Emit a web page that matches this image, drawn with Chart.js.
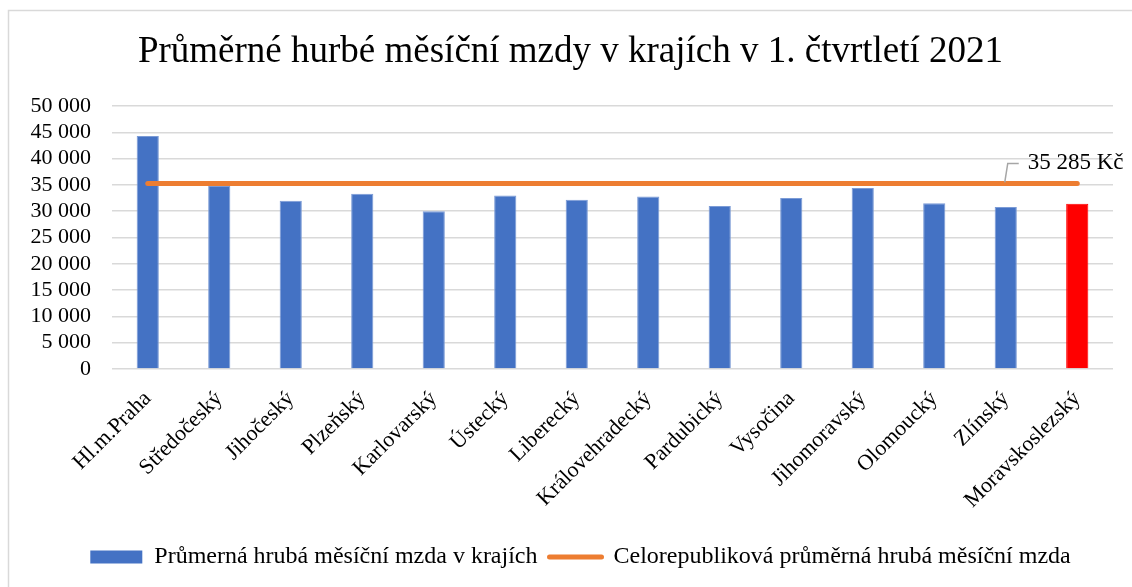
<!DOCTYPE html>
<html>
<head>
<meta charset="utf-8">
<script src="https://cdn.jsdelivr.net/npm/chart.js@4"></script>
<style>
  html, body { margin: 0; padding: 0; background: #fff; }
  #wrap { position: relative; width: 1132px; height: 587px; }
</style>
</head>
<body>
<div id="wrap"><canvas id="c" width="1132" height="587"></canvas></div>
<script>
const TITLE = 'Průměrné hurbé měsíční mzdy v krajích v 1. čtvrtletí 2021';
const categories = ['Hl.m.Praha','Středočeský','Jihočeský','Plzeňský','Karlovarský','Ústecký','Liberecký','Královehradecký','Pardubický','Vysočina','Jihomoravský','Olomoucký','Zlínský','Moravskoslezský'];
const regionWages = [44300, 34800, 32000, 33300, 30000, 33000, 32200, 32800, 31000, 32500, 34400, 31500, 30800, 31400];
const nationalWage = [35285, 35285, 35285, 35285, 35285, 35285, 35285, 35285, 35285, 35285, 35285, 35285, 35285, 35285];
const seriesNames = ['Průmerná hrubá měsíční mzda v krajích', 'Celorepubliková průměrná hrubá měsíční mzda'];
const yTicks = [0, 5000, 10000, 15000, 20000, 25000, 30000, 35000, 40000, 45000, 50000];
const labelIndex = 12;

const BLUE = '#4472C4', RED = '#FF0000', ORANGE = '#ED7D31';
const FONT = '"Liberation Serif", "Times New Roman", serif';
const fmt = v => String(v).replace(/\B(?=(\d{3})+(?!\d))/g, ' ');

const barColors = categories.map((c, i) => i === categories.length - 1 ? RED : BLUE);

const frame = {
  id: 'frame',
  afterLayout(chart) {
    if (chart.titleBlock) { chart.titleBlock.left += 14; chart.titleBlock.right += 14; }
    if (chart.legend) { chart.legend.left += 24; chart.legend.right += 24; }
  },
  beforeDraw(chart) {
    const ctx = chart.ctx;
    ctx.save();
    ctx.fillStyle = '#fff';
    ctx.fillRect(0, 0, chart.width, chart.height);
    ctx.strokeStyle = '#d9d9d9';
    ctx.lineWidth = 1.5;
    ctx.strokeRect(8.5, 10.5, 1300, 800);
    ctx.restore();
  }
};

const avgLabel = {
  id: 'avgLabel',
  afterDatasetsDraw(chart) {
    const ctx = chart.ctx;
    const xs = chart.scales.x, ys = chart.scales.y;
    const v = nationalWage[labelIndex];
    const x0 = xs.getPixelForValue(labelIndex);
    const y0 = ys.getPixelForValue(v);
    ctx.save();
    ctx.strokeStyle = '#a6a6a6';
    ctx.lineWidth = 1.5;
    ctx.beginPath();
    ctx.moveTo(x0 - 1, y0 - 1);
    ctx.lineTo(x0 + 2, y0 - 20);
    ctx.lineTo(x0 + 13, y0 - 20);
    ctx.stroke();
    ctx.fillStyle = '#000';
    ctx.font = '23px ' + FONT;
    ctx.textBaseline = 'middle';
    ctx.textAlign = 'left';
    ctx.fillText(fmt(v) + ' Kč', x0 + 22, y0 - 20);
    ctx.restore();
  }
};

new Chart(document.getElementById('c'), {
  data: {
    labels: categories,
    datasets: [
      {
        type: 'line',
        label: seriesNames[1],
        data: nationalWage,
        borderColor: ORANGE,
        backgroundColor: ORANGE,
        borderWidth: 5,
        borderCapStyle: 'round',
        pointRadius: 0,
        pointHoverRadius: 0,
        order: 0
      },
      {
        type: 'bar',
        label: seriesNames[0],
        data: regionWages,
        backgroundColor: barColors,
        borderColor: categories.map((c, i) => i === categories.length - 1 ? RED : '#7b9bd6'),
        borderWidth: 1,
        categoryPercentage: 1,
        barPercentage: 0.31,
        order: 1
      }
    ]
  },
  options: {
    responsive: false,
    animation: false,
    devicePixelRatio: 1,
    layout: { padding: { left: 0, right: 19, top: 0, bottom: 8 } },
    plugins: {
      title: {
        display: true,
        text: TITLE,
        color: '#000',
        font: { family: FONT, size: 37, weight: 'normal', lineHeight: 1.2 },
        padding: { top: 30, bottom: 31.6 }
      },
      legend: {
        position: 'bottom',
        reverse: true,
        labels: {
          color: '#000',
          font: { family: FONT, size: 24 },
          usePointStyle: true,
          pointStyleWidth: 52,
          boxHeight: 13,
          padding: 12,
          generateLabels(chart) {
            const items = Chart.defaults.plugins.legend.labels.generateLabels(chart);
            return items.map(it => {
              if (it.datasetIndex === 1) {
                it.pointStyle = 'rect';
                it.fillStyle = BLUE;
                it.strokeStyle = BLUE;
                it.lineWidth = 0;
              } else {
                it.pointStyle = 'line';
                it.strokeStyle = ORANGE;
                it.lineWidth = 5;
                it.lineCap = 'round';
              }
              return it;
            });
          }
        }
      },
      tooltip: { enabled: false }
    },
    scales: {
      x: {
        grid: { display: false },
        border: { display: false },
        ticks: {
          color: '#000',
          font: { family: FONT, size: 22 },
          minRotation: 45,
          maxRotation: 45,
          autoSkip: false,
          padding: 9
        },
        afterFit(s) { s.height = 164; }
      },
      y: {
        min: 0,
        max: 50000,
        afterBuildTicks(s) { s.ticks = yTicks.map(v => ({ value: v })); },
        grid: { color: '#d9d9d9', lineWidth: 1.5, drawTicks: false },
        border: { display: false },
        ticks: {
          color: '#000',
          font: { family: FONT, size: 22 },
          padding: 21,
          autoSkip: false,
          callback: v => fmt(v)
        },
        afterFit(s) { s.width = 112; }
      }
    }
  },
  plugins: [frame, avgLabel]
});
</script>
</body>
</html>
